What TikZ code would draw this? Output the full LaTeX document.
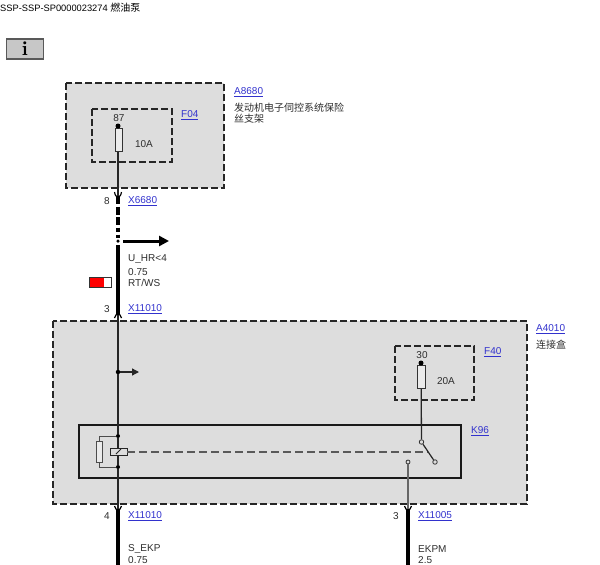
\documentclass[tikz,border=0pt]{standalone}
\usepackage{fontspec}
\setmainfont{Liberation Sans}
\newfontfamily\cjk{Noto Sans CJK SC}
\usetikzlibrary{arrows.meta}
\definecolor{boxgray}{RGB}{221,221,221}
\definecolor{linkblue}{RGB}{50,50,205}
\definecolor{txtgray}{RGB}{45,45,45}
\tikzset{
  txt/.style={anchor=west, inner sep=0pt, yshift=-.8pt, text=txtgray, font=\fontsize{10}{10}\selectfont},
  link/.style={txt, text=linkblue},
  pin/.style={inner sep=0pt, yshift=-.8pt, text=txtgray, font=\fontsize{10}{10}\selectfont},
  dashbox/.style={draw=black!85, line width=2pt, dash pattern=on 7pt off 3pt},
  wire/.style={line width=3.6pt, black},
  thinwire/.style={line width=1.3pt, black!85},
  fuse/.style={line width=.8pt, draw=black!80, fill=boxgray!60!white},
  blob/.style={circle, fill=black, inner sep=0pt, minimum size=4pt},
  contact/.style={circle, draw=black!80, fill=boxgray, line width=.8pt, inner sep=0pt, minimum size=4.5pt}
}
\begin{document}
\begin{tikzpicture}[x=1pt, y=-1pt]
  \useasboundingbox (0, 0) rectangle (600, 565);

  % title
  \node[txt, text=black, font=\fontsize{9.3}{9.3}\selectfont] (title) at (0, 6.5) {SSP-SSP-SP0000023274 {\cjk\fontsize{10}{10}\selectfont 燃油泵}};

  % info
  \node[draw=black!65, fill=black!22, line width=1.2pt, minimum width=37pt, minimum height=20pt, inner sep=0pt,
        font=\fontfamily{lmr}\bfseries\fontsize{20}{20}\selectfont] (info) at (25, 49) {\textbf{i}};

  % A8680
  \draw[dashbox, fill=boxgray] (66, 83) rectangle (224, 188);
  \draw[dashbox] (92, 109) rectangle (172, 162);
  \node[pin] (p87) at (119, 117.5) {87};
  \node[pin] (a10) at (144, 143.5) {10A};
  \node[link] (f04) at (181, 114.5) {\underline{F04}};
  \node[link] (a8680) at (234, 91.5) {\underline{A8680}};
  \node[txt, align=left, font=\cjk\fontsize{10}{11}\selectfont] (a8680t) at (234, 112) {发动机电子伺控系统保险\\丝支架};
  \coordinate (fuseT) at (118, 126);
  \coordinate (conA) at (118, 196);
  \draw[thinwire] (fuseT) -- (conA);
  \draw[fuse] (115, 128) rectangle (122.5, 151);
  \fill (fuseT) circle (2.5pt);

  % wire down to junction
  \node[pin] (p8) at (107, 200) {8};
  \node[link] (x6680) at (128, 200) {\underline{X6680}};
  \node[blob, minimum size=3.5pt] (junc) at (118, 241) {};
  \coordinate (juncT) at (118, 238);
  \coordinate (juncB) at (118, 245);
  \coordinate (conB) at (118, 315);
  \coordinate (arrowEnd) at (169, 241);
  \draw[wire, dash pattern=on 8pt off 2.5pt on 8pt off 2.5pt on 8pt off 2.5pt on 4pt off 3pt] (conA) -- (juncT);
  \draw[wire] (juncB) -- (conB);
  \draw[line width=3pt, -{Triangle[length=10pt,width=10pt]}] ([xshift=5pt]junc.center) -- (arrowEnd);
  \draw[line width=1.2pt] (114.5, 192) .. controls (115, 196) and (117, 197) .. (118, 197)
                        .. controls (119, 197) and (121, 196) .. (121.5, 192);
  \node[txt] (uhr) at (128, 258.5) {U\_HR<4};
  \node[txt] (w075) at (128, 271) {0.75};
  \node[txt] (rtws) at (128, 282) {RT/WS};
  \node[pin] (p3a) at (107, 308) {3};
  \node[link] (x11010a) at (128, 308) {\underline{X11010}};

  % colour code
  \draw[black!80, line width=.9pt, fill=white] (89, 277) rectangle (111, 287);
  \fill[red] (89.5, 277.5) rectangle (104, 286.5);

  % A4010
  \draw[dashbox, fill=boxgray] (53, 321) rectangle (527, 504);
  \node[link] (a4010) at (536, 328) {\underline{A4010}};
  \node[txt, font=\cjk\fontsize{10}{10}\selectfont] (a4010t) at (536, 344) {连接盒};

  % F40
  \draw[dashbox] (395, 346) rectangle (474, 400);
  \node[pin] (p30) at (422, 354) {30};
  \node[pin] (a20) at (446, 380.5) {20A};
  \node[link] (f40) at (484, 351) {\underline{F40}};
  \coordinate (fuse2T) at (421, 363);

  % K96
  \draw[line width=1.7pt, black!90] (79, 425) rectangle (461, 478);
  \node[link] (k96) at (471, 430) {\underline{K96}};

  % main wire through the box
  \coordinate (conC) at (118, 510);
  \coordinate (conD) at (408, 510);
  \node[blob, minimum size=4.5pt] (dot1) at (118, 372) {};
  \node[blob] (dot2) at (118, 436) {};
  \node[blob] (dot3) at (118, 467) {};
  \coordinate (tapEnd) at (139, 372);
  \draw[thinwire] (conB) -- (dot1) -- (dot2) -- (dot3) -- (conC);
  \draw[thinwire, -{Triangle[length=7pt,width=7pt]}] (dot1) -- (tapEnd);
  \draw[line width=1.2pt] (114.5, 318) .. controls (115, 315) and (117, 314) .. (118, 314)
                        .. controls (119, 314) and (121, 315) .. (121.5, 318);

  % relay
  \draw[black!70, line width=1pt] (dot2) -| (99, 441);
  \draw[black!70, line width=1pt] (dot3) -| (99, 462);
  \draw[black!70, line width=1pt, fill=boxgray!60!white] (96, 441) rectangle (102, 462);
  \draw[black!85, line width=1pt, fill=boxgray] (110.5, 448) rectangle (127, 455.5);
  \draw[black!85, line width=.9pt] (116, 454) -- (121, 449);
  \node[contact] (sw1) at (421.5, 442) {};
  \node[contact] (sw2) at (435, 462) {};
  \node[contact, minimum size=4pt] (sw3) at (408, 462) {};
  \coordinate (coilR) at (127, 452);
  \coordinate (armMid) at (428, 452);
  \draw[black!65, line width=1.3pt, dash pattern=on 8pt off 4pt] (coilR) -- (armMid);
  \draw[thinwire] (fuse2T) -- (sw1);
  \draw[fuse] (417.5, 365) rectangle (425.5, 388);
  \fill (fuse2T) circle (2.5pt);
  \draw[line width=1.2pt, black!85] (sw1) -- (sw2);
  \draw[black!60, line width=1.2pt] (sw3) -- (conD);

  % lower wires
  \coordinate (endC) at (118, 565);
  \coordinate (endD) at (408, 565);
  \draw[wire] ([yshift=1pt]conC) -- (endC);
  \draw[wire] ([yshift=1pt]conD) -- (endD);
  \draw[line width=1.2pt] (114.5, 506) .. controls (115, 509) and (117, 510) .. (118, 510)
                        .. controls (119, 510) and (121, 509) .. (121.5, 506);
  \draw[line width=1.2pt] (404.5, 506) .. controls (405, 509) and (407, 510) .. (408, 510)
                        .. controls (409, 510) and (411, 509) .. (411.5, 506);
  \node[pin] (p4) at (107, 515) {4};
  \node[link] (x11010b) at (128, 515) {\underline{X11010}};
  \node[pin] (p3b) at (396, 515) {3};
  \node[link] (x11005) at (418, 515) {\underline{X11005}};
  \node[txt] (sekp) at (128, 548) {S\_EKP};
  \node[txt] (s075) at (128, 559) {0.75};
  \node[txt] (ekpm) at (418, 548) {EKPM};
  \node[txt] (e25) at (418, 559) {2.5};
\end{tikzpicture}
\end{document}
